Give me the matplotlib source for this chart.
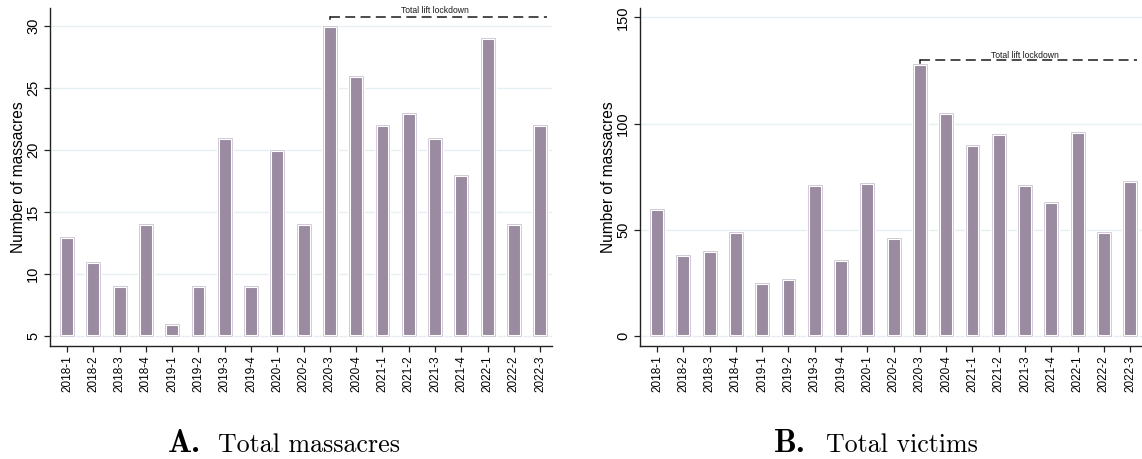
import matplotlib
matplotlib.use("Agg")
import matplotlib.pyplot as plt
import numpy as np

# Quarterly periods
quarters = ["2018-1", "2018-2", "2018-3", "2018-4",
            "2019-1", "2019-2", "2019-3", "2019-4",
            "2020-1", "2020-2", "2020-3", "2020-4",
            "2021-1", "2021-2", "2021-3", "2021-4",
            "2022-1", "2022-2", "2022-3"]

# Panel A: number of massacres per quarter
massacres = [13, 11, 9, 14, 6, 9, 21, 9, 20, 14, 30, 26, 22, 23, 21, 18, 29, 14, 22]

# Panel B: number of victims per quarter
victims = [60, 38, 40, 49, 25, 27, 71, 36, 72, 46, 128, 105, 90, 95, 71, 63, 96, 49, 73]

lockdown_start = "2020-3"
lockdown_label = "Total lift lockdown"

FILL = "#9a8ba1"
EDGE = "#d3cad8"
GRID = "#e6eff1"
AXCOL = "#222222"

plt.rcParams["font.family"] = ["Liberation Sans", "DejaVu Sans"]

fig = plt.figure(figsize=(11.42, 4.59), dpi=100)
W, H = 1142.0, 459.0


def panel(rect, values, base, ylim, yticks, line_y, text_y):
    ax = fig.add_axes(rect)
    x = np.arange(len(quarters))
    heights = np.array(values, dtype=float) - base
    ax.bar(x, heights, bottom=base, width=0.53, color=FILL,
           edgecolor="white", linewidth=2.2, zorder=3)
    ax.bar(x, heights, bottom=base, width=0.53, facecolor="none",
           edgecolor=EDGE, linewidth=0.7, zorder=4)

    ax.set_xlim(-0.65, 18.45)
    ax.set_ylim(*ylim)
    ax.set_xticks(x)
    ax.set_xticklabels(quarters, rotation=90, fontsize=8.5)
    ax.set_yticks(yticks)
    ax.set_yticklabels([str(t) for t in yticks], rotation=90,
                       va="center", fontsize=10.5)
    ax.set_ylabel("Number of massacres", fontsize=11.2, labelpad=0.5)

    for s in ("top", "right"):
        ax.spines[s].set_visible(False)
    for s in ("left", "bottom"):
        ax.spines[s].set_color(AXCOL)
        ax.spines[s].set_linewidth(1.0)
    ax.tick_params(axis="both", direction="out", length=4, width=0.9,
                   color=AXCOL, pad=3)
    ax.yaxis.grid(True, color=GRID, linewidth=1.0, zorder=0)
    ax.set_axisbelow(True)

    # Lockdown marker
    x0 = quarters.index(lockdown_start)
    x1 = 18.27
    ax.plot([x0, x1], [line_y, line_y], color="#1a1a1a", lw=1.1,
            dashes=(6.5, 3.5), zorder=5, clip_on=False)
    span = ylim[1] - ylim[0]
    ax.plot([x0, x0], [line_y, line_y - span * 0.008], color="#1a1a1a",
            lw=1.1, zorder=5, clip_on=False)
    ax.text(14.0, text_y, lockdown_label, ha="center", va="center",
            fontsize=6.2, color="#1a1a1a", zorder=6, clip_on=False)
    return ax


ax_a = panel([50 / W, 1 - 346 / H, 502 / W, 338 / H], massacres, 5,
             (4.19, 31.45), [5, 10, 15, 20, 25, 30], 30.75, 31.25)
ax_b = panel([640 / W, 1 - 346 / H, 502 / W, 338 / H], victims, 0,
             (-4.7, 154.4), [0, 50, 100, 150], 129.8, 132.2)

# Panel captions
base_y = 1 - 452.5 / H
fig.text(168 / W, base_y, "A.", family="cmb10", fontsize=23, va="baseline")
fig.text(218 / W, base_y, "Total massacres", family="cmr10", fontsize=18.7,
         va="baseline")
fig.text(774 / W, base_y, "B.", family="cmb10", fontsize=23, va="baseline")
fig.text(826 / W, base_y, "Total victims", family="cmr10", fontsize=18.7,
         va="baseline")

fig.savefig("out.png", dpi=100)
